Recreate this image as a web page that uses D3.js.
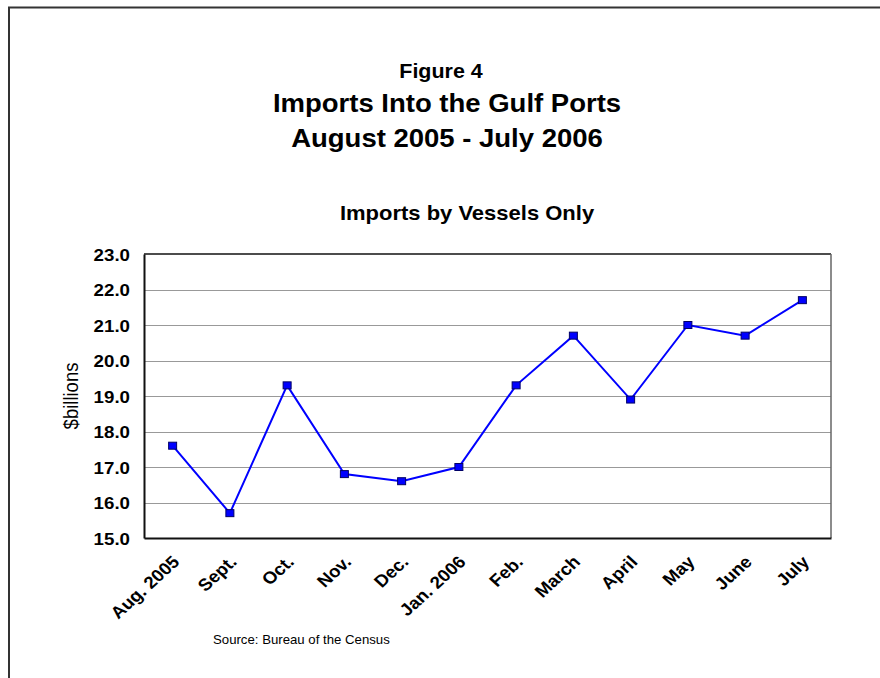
<!DOCTYPE html>
<html>
<head>
<meta charset="utf-8">
<script src="https://cdn.jsdelivr.net/npm/d3@7"></script>
<style>
  html, body { margin: 0; padding: 0; background: #fff; }
  svg { display: block; font-family: "Liberation Sans", Arial, sans-serif; }
</style>
</head>
<body>
<svg id="chart" width="880" height="678"></svg>
<script>
// Monthly imports by vessel into the Gulf ports, $ billions
const months = ["Aug. 2005", "Sept.", "Oct.", "Nov.", "Dec.", "Jan. 2006",
                "Feb.", "March", "April", "May", "June", "July"];
const imports = [17.6, 15.7, 19.3, 16.8, 16.6, 17.0, 19.3, 20.7, 18.9, 21.0, 20.7, 21.7];
const yTicks = [15, 16, 17, 18, 19, 20, 21, 22, 23];

// Text in this figure is set slightly wide
const STRETCH = 1.1;
const FONT = "Liberation Sans, Arial, sans-serif";

const svg = d3.select("#chart");
const plot = { left: 144, right: 831, top: 254, bottom: 538 };

// Outer frame (top and left edges)
svg.append("path")
  .attr("d", "M9,678 V7.5 H880")
  .attr("fill", "none").attr("stroke", "#333").attr("stroke-width", 2);

// Titles
const titles = [
  { text: "Figure 4", x: 441, y: 78, size: 19.5 },
  { text: "Imports Into the Gulf Ports", x: 447, y: 112, size: 25 },
  { text: "August 2005 - July 2006", x: 447, y: 147, size: 25 },
  { text: "Imports by Vessels Only", x: 467, y: 220, size: 20 }
];
svg.selectAll("text.title").data(titles).join("text")
  .attr("class", "title")
  .attr("transform", d => `translate(${d.x},${d.y}) scale(${STRETCH},1)`)
  .attr("text-anchor", "middle")
  .attr("font-weight", "bold")
  .attr("font-size", d => d.size)
  .text(d => d.text);

const x = d3.scaleBand().domain(months).range([plot.left, plot.right]);
const y = d3.scaleLinear().domain([15, 23]).range([plot.bottom, plot.top]);

// Horizontal gridlines
svg.append("g")
  .selectAll("line")
  .data(yTicks.slice(1, -1))
  .join("line")
  .attr("x1", plot.left).attr("x2", plot.right)
  .attr("y1", d => Math.round(y(d)) + 0.5).attr("y2", d => Math.round(y(d)) + 0.5)
  .attr("stroke", "#999").attr("stroke-width", 1.2);

// Plot frame
svg.append("line").attr("x1", plot.left).attr("x2", plot.right)
  .attr("y1", plot.top).attr("y2", plot.top).attr("stroke", "#111").attr("stroke-width", 1.5);
svg.append("line").attr("x1", plot.right).attr("x2", plot.right)
  .attr("y1", plot.top).attr("y2", plot.bottom).attr("stroke", "#666").attr("stroke-width", 1.5);

// Y axis
const yAxis = svg.append("g")
  .attr("transform", `translate(${plot.left},0)`)
  .call(d3.axisLeft(y).tickValues(yTicks).tickFormat(d3.format(".1f")).tickSize(0).tickPadding(0));
yAxis.select(".domain").attr("stroke", "#111").attr("stroke-width", 2);
yAxis.selectAll("text")
  .attr("font-family", FONT)
  .attr("font-size", 17).attr("font-weight", "bold").attr("fill", "#000")
  .attr("x", 0)
  .attr("dy", "0.36em")
  .attr("transform", `translate(-14,0) scale(${STRETCH},1)`);

// X axis
const xAxis = svg.append("g")
  .attr("transform", `translate(0,${plot.bottom})`)
  .call(d3.axisBottom(x).tickSize(0).tickPadding(0));
xAxis.select(".domain").attr("stroke", "#111").attr("stroke-width", 2);
xAxis.selectAll("text")
  .attr("font-family", FONT)
  .attr("font-size", 17).attr("font-weight", "bold").attr("fill", "#000")
  .attr("text-anchor", "end")
  .attr("y", 0)
  .attr("dy", 0)
  .attr("transform", `translate(8,25) scale(${STRETCH},1) rotate(-45)`);

// Y axis title
svg.append("text")
  .attr("transform", `translate(78,396) scale(${STRETCH},1) rotate(-90)`)
  .attr("text-anchor", "middle")
  .attr("font-size", 18.5)
  .text("$billions");

// Data line
const line = d3.line()
  .x((d, i) => x(months[i]) + x.bandwidth() / 2)
  .y(d => y(d));
svg.append("path")
  .datum(imports)
  .attr("d", line)
  .attr("fill", "none")
  .attr("stroke", "#0000ff")
  .attr("stroke-width", 2);

// Markers
svg.append("g").selectAll("rect")
  .data(imports)
  .join("rect")
  .attr("x", (d, i) => x(months[i]) + x.bandwidth() / 2 - 4)
  .attr("y", d => y(d) - 3.5)
  .attr("width", 8).attr("height", 7)
  .attr("fill", "#0000ff")
  .attr("stroke", "#000066").attr("stroke-width", 1);

// Source note
svg.append("text")
  .attr("transform", `translate(213,644) scale(${STRETCH},1)`)
  .attr("font-size", 12)
  .text("Source: Bureau of the Census");
</script>
</body>
</html>
